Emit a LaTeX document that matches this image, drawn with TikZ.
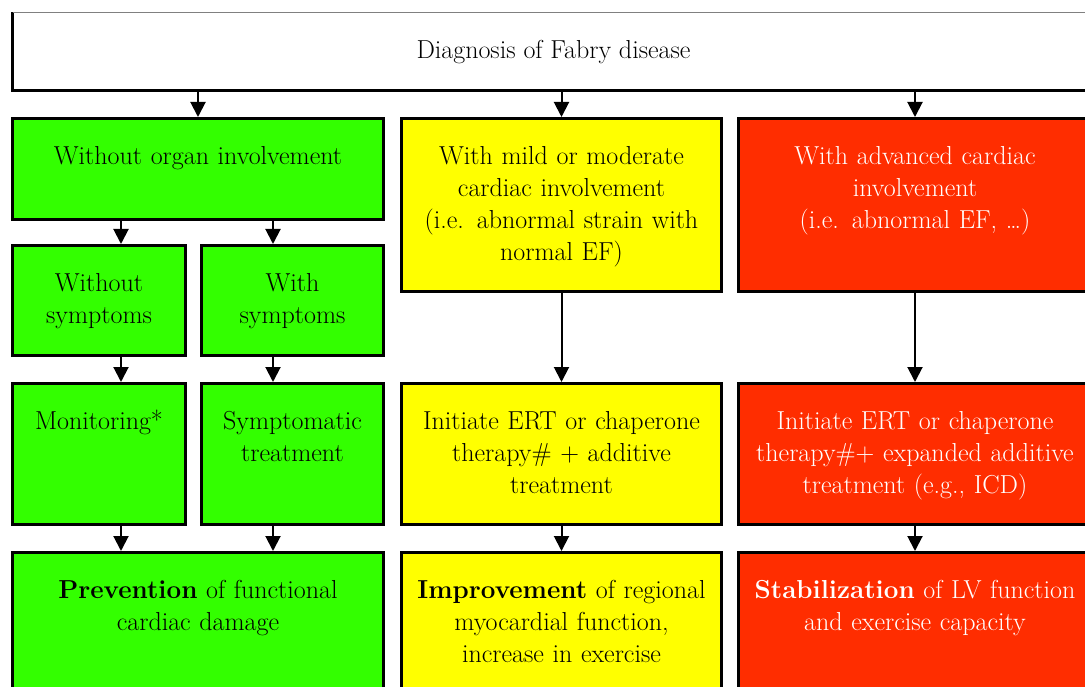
\documentclass[tikz,border=0pt]{standalone}
\usepackage{tikz}
\usetikzlibrary{arrows.meta}
\definecolor{fabgreen}{RGB}{51,255,0}
\definecolor{fabyellow}{RGB}{255,255,0}
\definecolor{fabred}{RGB}{255,45,0}

\begin{document}
\begin{tikzpicture}[x=1pt,y=-1pt,
stage/.style={draw,line width=3pt,anchor=north west,inner sep=0pt,align=center,text height=46pt,font=\fontsize{26}{32}\selectfont},
green box/.style={stage,fill=fabgreen},
yellow box/.style={stage,fill=fabyellow},
red box/.style={stage,fill=fabred,text=white},
arr/.style={-{Triangle[width=15pt,length=15pt]},line width=2pt}]
\useasboundingbox (0,0) rectangle (1085,687);
\clip (0,0) rectangle (1085,687);
\node[anchor=north west,inner sep=0pt,outer sep=0pt,minimum width=1082pt,minimum height=78.5pt,font=\fontsize{26}{32}\selectfont] (diag) at (12.5,12.5) {Diagnosis of Fabry disease};
\draw[line width=3pt] (diag.north west) -- (diag.south west) -- (diag.south east);
\draw[line width=1pt,gray] (diag.north west) -- (diag.north east);
\node[green box,text width=371pt,text depth=55pt] (none) at (11,117) {Without organ involvement};
\node[yellow box,text width=320pt,text depth=127pt] (mild) at (400,117) {With mild or moderate\\cardiac involvement\\(i.e. abnormal strain with\\normal EF)};
\node[red box,text width=353pt,text depth=127pt] (adv) at (737,117) {With advanced cardiac\\involvement\\(i.e. abnormal EF, \ldots)};
\node[green box,text width=173pt,text depth=64pt] (nosym) at (11,244) {Without\\symptoms};
\node[green box,text width=182pt,text depth=64pt] (sym) at (200,244) {With\\symptoms};
\node[green box,text width=173pt,text depth=95pt] (mon) at (11,382) {Monitoring*};
\node[green box,text width=182pt,text depth=95pt] (symtx) at (200,382) {Symptomatic\\treatment};
\node[yellow box,text width=320pt,text depth=95pt] (ert) at (400,382) {Initiate ERT or chaperone\\therapy\# + additive\\treatment};
\node[red box,text width=353pt,text depth=95pt] (ertx) at (737,382) {Initiate ERT or chaperone\\therapy\#+ expanded additive\\treatment (e.g., ICD)};
\node[green box,text width=371pt,text depth=131pt] (prev) at (11,551) {\textbf{Prevention} of functional\\cardiac damage};
\node[yellow box,text width=320pt,text depth=131pt] (impr) at (400,551) {\textbf{Improvement} of regional\\myocardial function,\\increase in exercise};
\node[red box,text width=353pt,text depth=131pt] (stab) at (737,551) {\textbf{Stabilization} of LV function\\and exercise capacity};
\coordinate (lcol) at (121,0);
\coordinate (rcol) at (273,0);
\draw[arr] (diag.south -| none.north) -- (none.north);
\draw[arr] (diag.south -| mild.north) -- (mild.north);
\draw[arr] (diag.south -| adv.north) -- (adv.north);
\draw[arr] (none.south -| lcol) -- (nosym.north -| lcol);
\draw[arr] (none.south -| rcol) -- (sym.north -| rcol);
\draw[arr] (nosym.south -| lcol) -- (mon.north -| lcol);
\draw[arr] (sym.south -| rcol) -- (symtx.north -| rcol);
\draw[arr] (mon.south -| lcol) -- (prev.north -| lcol);
\draw[arr] (symtx.south -| rcol) -- (prev.north -| rcol);
\draw[arr] (mild.south) -- (ert.north);
\draw[arr] (ert.south) -- (impr.north);
\draw[arr] (adv.south) -- (ertx.north);
\draw[arr] (ertx.south) -- (stab.north);
\end{tikzpicture}
\end{document}
